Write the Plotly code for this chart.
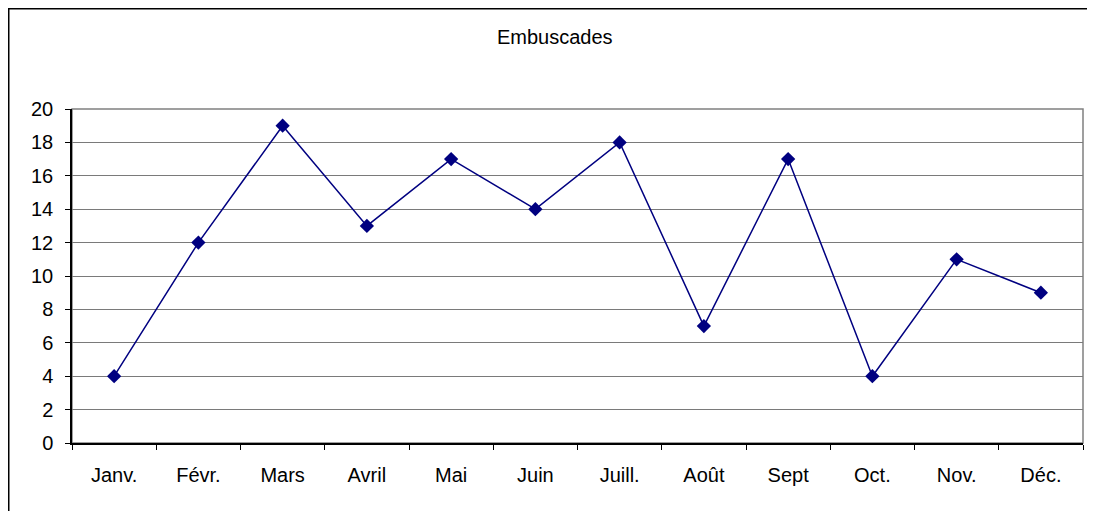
import plotly.graph_objects as go

months = ["Janv.", "Févr.", "Mars", "Avril", "Mai", "Juin", "Juill.", "Août", "Sept", "Oct.", "Nov.", "Déc."]
embuscades = [4, 12, 19, 13, 17, 14, 18, 7, 17, 4, 11, 9]
y_ticks = list(range(0, 21, 2))
title_text = "Embuscades"

# page body has an 8px margin, so the figure is drawn 8px smaller and shifted
W, H = 1087, 503
L, R, T, B = 64, 12, 101, 68
pw, ph = W - L - R, H - T - B

fig = go.Figure()
fig.add_trace(go.Scatter(
    x=months, y=embuscades, mode="lines+markers",
    line=dict(color="#000080", width=1.5),
    marker=dict(symbol="diamond", size=11, color="#000080"),
    showlegend=False, cliponaxis=False,
))

font = dict(family="Liberation Sans, Arial, sans-serif", size=20, color="black")

fig.update_layout(
    width=W, height=H,
    margin=dict(l=L, r=R, t=T, b=B),
    paper_bgcolor="white", plot_bgcolor="white",
    font=font,
    xaxis=dict(
        type="category", tickson="boundaries", ticks="outside", ticklen=5,
        tickcolor="black", tickwidth=1, showline=True, linecolor="black", linewidth=1.5,
        showgrid=False, ticklabelstandoff=13, range=[-0.5, 11.5], fixedrange=True,
    ),
    yaxis=dict(
        range=[0, 20], tickvals=y_ticks, ticks="outside", ticklen=5,
        tickcolor="black", tickwidth=1, showline=True, linecolor="black", linewidth=1.5,
        showgrid=True, gridcolor="#7a7a7a", gridwidth=1, zeroline=False,
        ticklabelstandoff=8, fixedrange=True,
    ),
    shapes=[
        dict(type="rect", xref="paper", yref="paper", x0=0, x1=1, y0=0, y1=1,
             line=dict(color="#808080", width=1.5), layer="below"),
        dict(type="rect", xref="paper", yref="paper",
             x0=(0.75 - L) / pw, x1=(1110 - L) / pw,
             y0=-(525 - (T + ph)) / ph, y1=1 + (T - 0.75) / ph,
             line=dict(color="black", width=1.5), layer="below"),
    ],
    annotations=[
        dict(text=title_text, xref="paper", yref="paper",
             x=(547 - L) / pw, y=1 + (T - 29) / ph, showarrow=False,
             xanchor="center", yanchor="middle", font=font),
    ],
)

fig.write_html("out.html")
